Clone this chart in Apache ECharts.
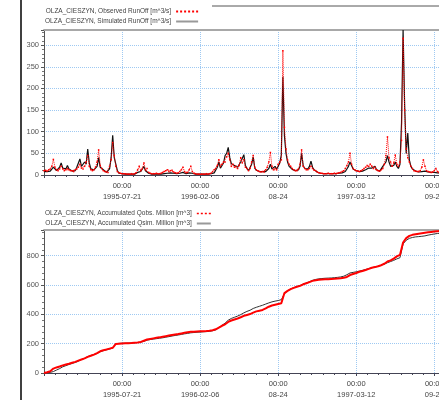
<!DOCTYPE html>
<html>
<head>
<meta charset="utf-8">
<script src="https://cdn.jsdelivr.net/npm/echarts@6/dist/echarts.min.js"></script>
<style>
  html, body { margin: 0; padding: 0; background: #fff; overflow: hidden; }
  #chart { width: 480px; height: 400px; }
</style>
</head>
<body>
<div id="chart"></div>
<script>
// runoff, one value every 4 days from 1995-01-02  [m^3/s]
var runoffFirst = '1995-01-02', runoffStep = 4;
var obsRunoff = [
  10,11,9,12,14,20,36,18,12,10, 14,20,14,10,12,15,12,10,10,8,
  12,14,18,25,16,14,20,30,45,20, 12,10,12,18,30,58,22,15,10,8,
  7,6,20,35,75,45,20,8,5,4, 3,3,3,2,2,2,3,2,3,5,
  12,20,10,15,28,12,15,6,4,3, 3,3,4,3,3,4,6,8,10,12,
  8,10,11,7,5,4,5,8,12,18, 8,5,6,12,20,8,4,3,2,2,
  2,2,2,2,3,2,3,4,8,12, 15,22,35,20,25,30,30,42,50,35,
  20,25,18,20,15,22,40,28,35,18, 15,10,15,30,45,18,12,10,8,7,
  8,7,12,18,30,52,20,12,15,12, 25,30,35,287,110,60,35,25,20,15,
  12,10,10,14,25,58,20,15,12,12, 15,20,15,11,10,7,5,4,4,3,
  3,3,4,3,3,3,4,3,4,5, 6,8,10,15,22,30,50,25,15,12,
  10,9,8,10,12,15,18,22,20,25, 20,15,18,12,10,9,12,15,25,45,
  88,40,30,20,28,46,25,20,30,80, 316,150,60,40,30,20,15,10,9,8,
  8,10,18,35,20,10,8,7,6,7, 10,15,8,6,5,5,6,5,5,4,
  5,6,5,5,4,5,4,5,6,5, 5,4,5,5
];
var simRunoff = [
  8,9,8,10,9,12,18,14,10,12, 18,28,16,12,14,22,14,10,9,8,
  10,18,22,37,20,18,30,25,60,28, 14,10,12,14,20,40,18,22,12,9,
  6,5,14,40,92,40,25,10,4,3, 3,2,2,2,2,2,2,2,2,3,
  6,10,8,12,20,10,8,4,3,2, 2,2,2,2,2,2,3,3,4,4,
  4,5,4,4,3,3,3,4,5,6, 4,3,3,5,8,4,3,2,2,2,
  2,2,2,2,2,2,2,3,4,5, 8,18,30,16,20,28,45,50,64,40,
  26,30,22,25,18,20,30,34,47,22, 15,10,10,25,42,16,11,9,8,7,
  8,7,8,10,15,25,14,12,20,14, 20,28,46,227,90,50,30,20,16,13,
  12,10,9,12,20,50,22,15,11,14, 20,32,18,12,9,7,5,4,4,3,
  3,3,3,3,3,3,3,3,3,4, 4,5,6,8,14,20,30,22,14,12,
  10,9,8,8,9,10,12,15,16,18, 16,14,20,12,10,9,12,20,25,30,
  45,30,20,16,22,30,20,15,25,120, 335,160,50,97,35,20,14,10,9,8,
  7,7,8,10,9,8,7,6,6,6, 6,6,5,5,5,4,4,4,4,4,
  4,4,4,4,4,4,4,4,4,4, 4,4,4,4
];

// accumulated volume, one value every 8 days from 1995-01-02  [Million m^3]
var accFirst = '1995-01-02', accStep = 8;
var accObs = [
  0,5,12,30,38,44,52,58,63,70, 76,84,92,100,110,118,125,136,148,155,
  160,166,172,198,200,201,202,203,204,206, 208,212,220,228,232,236,240,243,247,251,
  255,259,263,266,270,274,278,281,282,283, 284,285,286,288,292,298,310,322,332,348,
  358,365,372,380,390,396,402,412,420,425, 430,440,452,460,465,470,475,545,560,572,
  580,588,594,605,612,620,628,633,636,638, 639,640,641,642,644,646,650,655,668,675,
  682,690,696,702,710,718,722,728,735,745, 760,768,780,795,805,890,920,935,942,946,
  950,953,956,959,962,965,967,968,969,970, 971,972,972,973,973,974,975
];
var accSim = [
  0,2,4,10,20,30,42,50,58,65, 72,80,92,100,112,120,126,133,145,152,
  158,163,170,200,202,203,203,204,205,206, 208,210,216,224,228,231,234,237,240,244,
  248,252,256,259,263,267,270,274,276,278, 279,281,282,284,288,294,310,325,340,360,
  372,380,388,398,410,420,428,440,448,455, 462,470,478,485,490,494,500,540,560,574,
  582,590,596,606,614,622,632,638,642,644, 646,647,648,650,652,655,660,670,682,686,
  690,695,700,706,712,718,722,728,735,742, 752,760,768,778,786,880,905,918,924,928,
  930,932,935,940,944,948,951,953,954,955, 956,957,957,958,958,959,960
];

var tickDays = 200;            // one major tick every 200 days

// x values: day number, 1995-07-21 = 400
var base = Date.UTC(1995, 6, 21);
function toX(s) { return Math.round((Date.parse(s) - base) / 86400000) + 400; }
function pad(n) { return n < 10 ? '0' + n : '' + n; }
function xLabel(v) {
  var d = new Date(base + (v - 400) * 86400000);
  var p = new Date(base + (v - 400 - tickDays) * 86400000);
  var md = pad(d.getUTCMonth() + 1) + '-' + pad(d.getUTCDate());
  var full = v <= 400 || d.getUTCFullYear() !== p.getUTCFullYear();
  return '00:00\n' + (full ? d.getUTCFullYear() + '-' + md : md);
}
function pairs(vals, first, step) {
  var x0 = toX(first);
  return vals.map(function (v, i) { return [x0 + i * step, v]; });
}

function gridLine() {
  return { show: true, showMinLine: false, showMaxLine: false,
           lineStyle: { color: '#9ec9f2', type: 'dotted', width: 1 } };
}
function xAx(idx) {
  return {
    type: 'value', gridIndex: idx, min: 200, max: 1294, interval: tickDays,
    axisLine: { lineStyle: { color: '#445', width: 1 } },
    axisTick: { show: true, length: 3, lineStyle: { color: '#445' } },
    minorTick: { show: true, splitNumber: 7, length: 2, lineStyle: { color: '#445' } },
    axisLabel: { formatter: xLabel, color: '#444', fontSize: 7.5, lineHeight: 11, margin: 5,
                 showMinLabel: false, showMaxLabel: false, fontFamily: 'Liberation Sans' },
    splitLine: gridLine()
  };
}
// plain grey frame line along the top of a panel
function topAx(idx) {
  return {
    type: 'value', gridIndex: idx, position: 'top', min: 200, max: 1294,
    axisLine: { show: true, onZero: false, lineStyle: { color: '#a8a8a8', width: 2 } },
    axisTick: { show: false }, axisLabel: { show: false }, splitLine: { show: false }
  };
}
function yAx(idx, max, step) {
  return {
    type: 'value', gridIndex: idx, min: 0, max: max, interval: step,
    axisLine: { show: true, lineStyle: { color: '#555' } },
    axisTick: { show: true, length: 3, lineStyle: { color: '#555' } },
    minorTick: { show: true, splitNumber: 5, length: 2, lineStyle: { color: '#777' } },
    axisLabel: { color: '#555', fontSize: 7.5, margin: 5, showMaxLabel: false,
                 fontFamily: 'Liberation Sans' },
    splitLine: gridLine()
  };
}

var hideMark = { opacity: 0 };
var chart = echarts.init(document.getElementById('chart'));
chart.setOption({
  animation: false,
  textStyle: { fontFamily: 'Liberation Sans' },
  grid: [
    { left: 44, top: 30, width: 427, height: 145 },
    { left: 44, top: 230, width: 427, height: 146 }
  ],
  legend: [
    {
      left: 40, top: 3, orient: 'vertical', align: 'right', itemWidth: 22, itemHeight: 6, itemGap: 3,
      textStyle: { fontSize: 6.5, color: '#444', width: 140 },
      data: [
        { name: 'OLZA_CIESZYN, Observed RunOff [m^3/s]', itemStyle: hideMark },
        { name: 'OLZA_CIESZYN, Simulated RunOff [m^3/s]', itemStyle: hideMark,
          lineStyle: { color: '#999', width: 2 } }
      ]
    },
    {
      left: 40, top: 205, orient: 'vertical', align: 'right', itemWidth: 14, itemHeight: 6, itemGap: 3,
      textStyle: { fontSize: 6.5, color: '#444', width: 162 },
      data: [
        { name: 'OLZA_CIESZYN, Accumulated Qobs. Million [m^3]', itemStyle: hideMark,
          lineStyle: { color: '#ff0000', type: [2, 2], width: 1.5, opacity: 1 } },
        { name: 'OLZA_CIESZYN, Accumulated Qsim. Million [m^3]', itemStyle: hideMark,
          lineStyle: { color: '#999', width: 2 } }
      ]
    }
  ],
  xAxis: [xAx(0), xAx(1), topAx(0), topAx(1)],
  yAxis: [yAx(0, 335, 50), yAx(1, 975, 200)],
  series: [
    {
      name: 'OLZA_CIESZYN, Simulated RunOff [m^3/s]', type: 'line', xAxisIndex: 0, yAxisIndex: 0,
      data: pairs(simRunoff, runoffFirst, runoffStep), symbol: 'none',
      itemStyle: { color: '#777' }, lineStyle: { color: '#111', width: 1.2 }
    },
    {
      name: 'OLZA_CIESZYN, Observed RunOff [m^3/s]', type: 'line', xAxisIndex: 0, yAxisIndex: 0,
      data: pairs(obsRunoff, runoffFirst, runoffStep), showSymbol: true, symbol: 'rect', symbolSize: 1.5,
      itemStyle: { color: '#f00' }, lineStyle: { color: '#f00', width: 1, type: 'dotted' }
    },
    {
      name: 'OLZA_CIESZYN, Accumulated Qsim. Million [m^3]', type: 'line', xAxisIndex: 1, yAxisIndex: 1,
      data: pairs(accSim, accFirst, accStep), symbol: 'none',
      itemStyle: { color: '#777' }, lineStyle: { color: '#333', width: 1 }
    },
    {
      name: 'OLZA_CIESZYN, Accumulated Qobs. Million [m^3]', type: 'line', xAxisIndex: 1, yAxisIndex: 1,
      data: pairs(accObs, accFirst, accStep), symbol: 'none',
      itemStyle: { color: '#f00' }, lineStyle: { color: '#f00', width: 2 }
    }
  ],
  graphic: [
    { type: 'line', shape: { x1: 21, y1: 0, x2: 21, y2: 400 }, style: { stroke: '#000', lineWidth: 1.5 } },
    { type: 'line', shape: { x1: 212, y1: 6, x2: 480, y2: 6 }, style: { stroke: '#555', lineWidth: 1 } }
  ]
});
</script>
</body>
</html>
